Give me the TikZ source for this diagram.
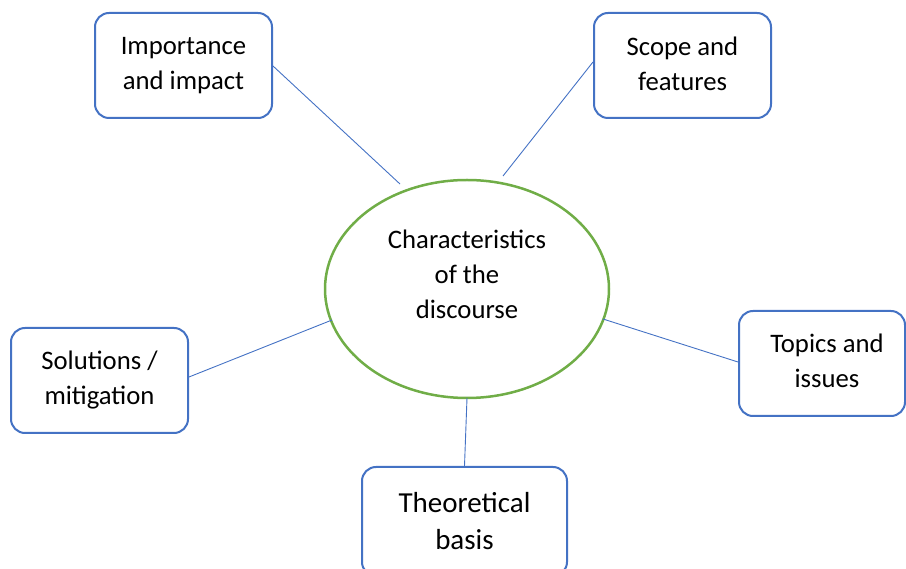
\documentclass[tikz,border=0pt]{standalone}
\usepackage{fontspec}
\setmainfont{Carlito}
\usetikzlibrary{shapes.geometric}
\definecolor{boxblue}{HTML}{4472C4}
\definecolor{ellgreen}{HTML}{70AD47}
\begin{document}
\begin{tikzpicture}[x=1pt,y=-1pt,
  txt/.style={inner sep=0pt, align=center, font=\fontsize{26.7}{35}\selectfont},
  topic/.style={draw=boxblue, line width=2pt, rounded corners=14pt, fill=white, txt},
  link/.style={draw=boxblue, line width=0.9pt}]
\useasboundingbox (0,0) rectangle (906,569);
\node[draw=ellgreen, line width=2.5pt, ellipse, minimum width=284pt, minimum height=218pt,
  inner sep=0pt,
  label={[txt, yshift=15pt]center:Characteristics\\of the\\discourse}] (c) at (467,289) {};
\node[topic, minimum width=177pt, minimum height=105pt] (imp) at (183.5,65.5) {Importance\\and impact};
\node[topic, minimum width=177pt, minimum height=105pt,
  label={[txt, yshift=2pt]center:Scope and\\features}] (scope) at (682.5,65.5) {};
\node[topic, minimum width=166pt, minimum height=105pt,
  label={[txt, xshift=5pt, yshift=3pt]center:Topics and\\issues}] (topics) at (822,363.5) {};
\node[topic, minimum width=177pt, minimum height=105pt] (sol) at (99.5,380.5) {Solutions /\\mitigation};
\node[topic, minimum width=205pt, minimum height=109pt, font=\fontsize{29}{37}\selectfont] (theo) at (464.5,521.5) {Theoretical\\basis};
\coordinate (ci) at (400,184);
\coordinate (cs) at (503,176);
\coordinate (ct) at (603,319);
\coordinate (cl) at (332,320);
\coordinate (cb) at (467,398);
\draw[link] (imp.east |- 0,66) -- (ci);
\draw[link] (scope.west |- 0,62) -- (cs);
\draw[link] (topics.west |- 0,362) -- (ct);
\draw[link] (sol.east |- 0,377) -- (cl);
\draw[link] (theo.north) -- (cb);
\end{tikzpicture}
\end{document}
